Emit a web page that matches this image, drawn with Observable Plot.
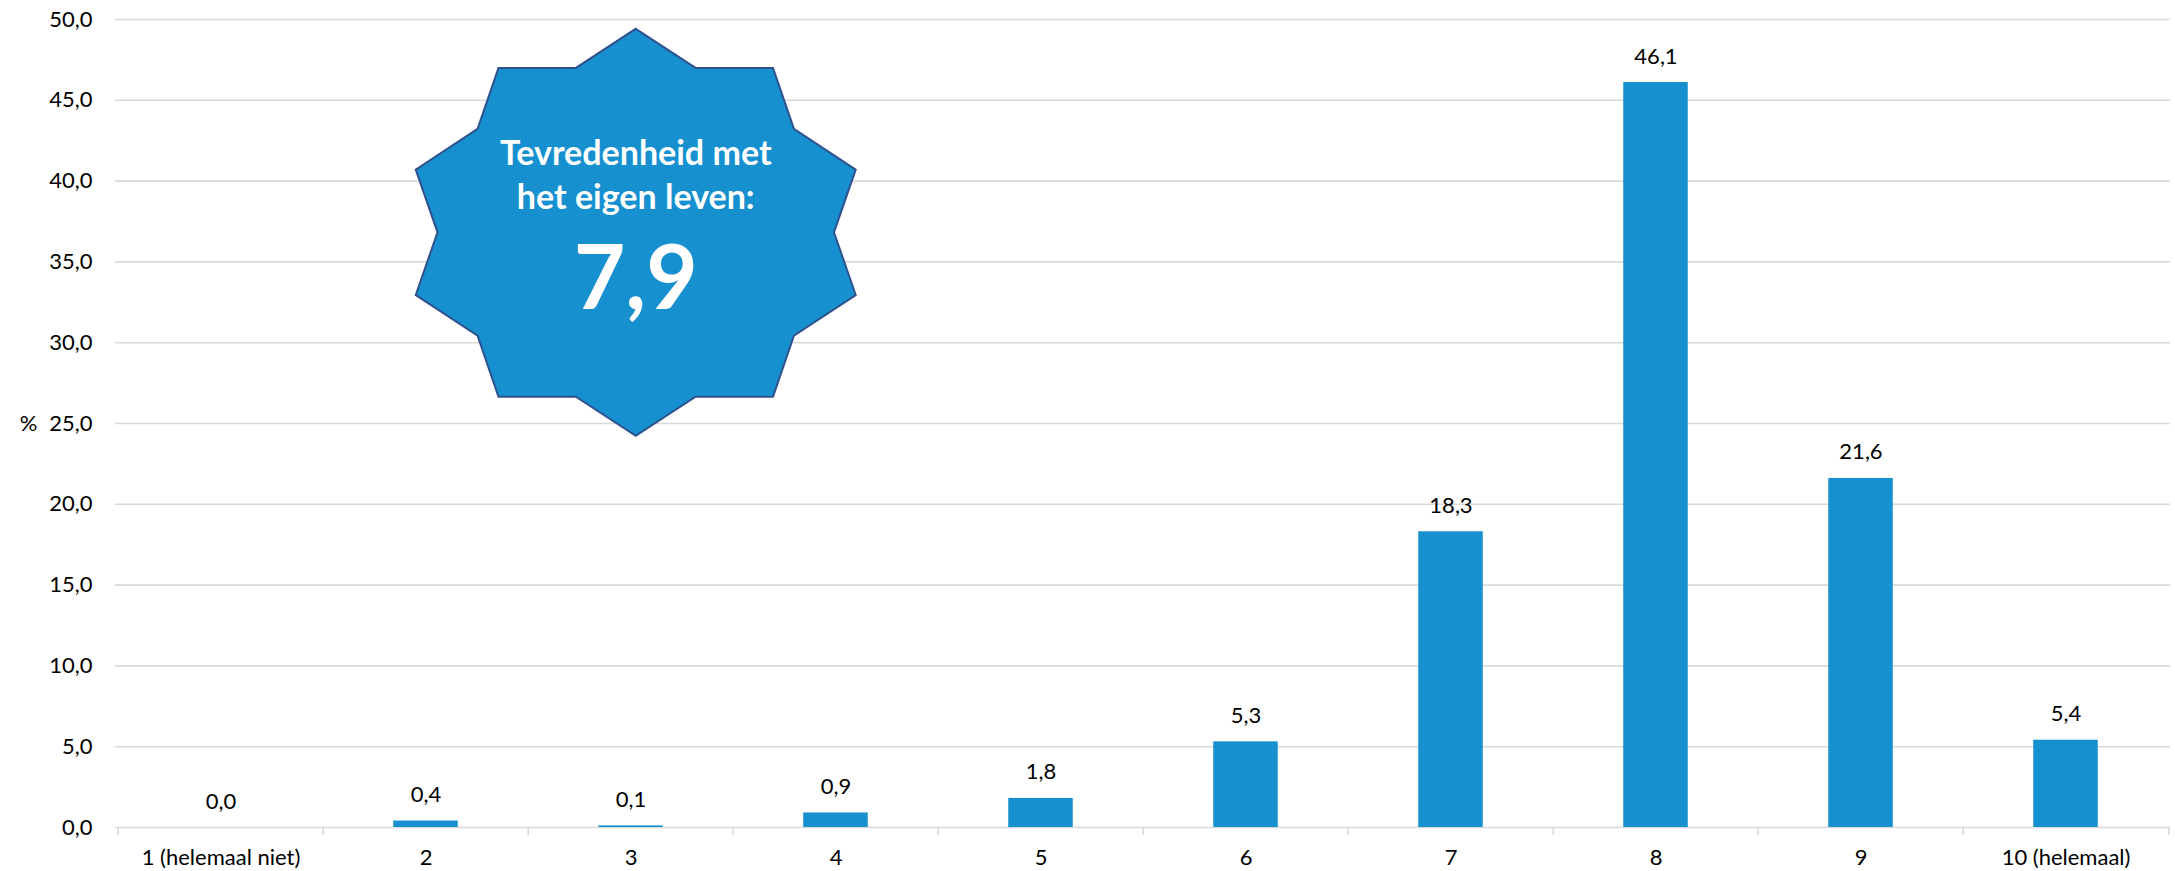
<!DOCTYPE html>
<html>
<head>
<meta charset="utf-8">
<script src="https://cdn.jsdelivr.net/npm/d3@7"></script>
<script src="https://cdn.jsdelivr.net/npm/@observablehq/plot@0.6"></script>
<style>
  html, body { margin: 0; padding: 0; background: #fff; }
  #chart svg { display: block; }
</style>
</head>
<body>
<div id="chart"></div>
<script>
const categories = ["1 (helemaal niet)", "2", "3", "4", "5", "6", "7", "8", "9", "10 (helemaal)"];
const values = [0.0, 0.4, 0.1, 0.9, 1.8, 5.3, 18.3, 46.1, 21.6, 5.4];
const yTicks = [0, 5, 10, 15, 20, 25, 30, 35, 40, 45, 50];
const badgeLines = ["Tevredenheid met", "het eigen leven:"];
const badgeValue = "7,9";

const data = categories.map((c, i) => ({cat: c, val: values[i]}));
const fmt = v => d3.format(".1f")(v).replace(".", ",");

const W = 2175, H = 871;
const mL = 115, mR = 5, mT = 19, mB = 44;
const bw = (W - mL - mR) / categories.length;
const barColor = "#1690cf";
const gridColor = "#d9d9d9";
const font = "Lato, 'Open Sans', sans-serif";
const fs = 22;

// Badge (10-point star) outline, normalized offsets from its centre
const starOuter = [[0,-1],[0.624,-0.808],[1,-0.308],[1,0.308],[0.624,0.808],[0,1],[-0.624,0.808],[-1,0.308],[-1,-0.308],[-0.624,-0.808]];
const starInner = [[0.272,-0.808],[0.719,-0.508],[0.901,0],[0.719,0.508],[0.272,0.808],[-0.272,0.808],[-0.719,0.508],[-0.901,0],[-0.719,-0.508],[-0.272,-0.808]];

function badge(index, scales, values, dimensions) {
  const x0 = scales.x("3");
  const cx = x0 + bw / 2 + 5;
  const cy = scales.y(36.8);
  const rx = 220, ry = 203.5;
  const pts = [];
  for (let i = 0; i < 10; i++) {
    pts.push([cx + starOuter[i][0] * rx, cy + starOuter[i][1] * ry]);
    pts.push([cx + starInner[i][0] * rx, cy + starInner[i][1] * ry]);
  }
  const g = d3.create("svg:g");
  g.append("polygon")
    .attr("points", pts.map(p => p.join(",")).join(" "))
    .attr("fill", barColor)
    .attr("stroke", "#2f528f")
    .attr("stroke-width", 2);
  const t = g.append("g").attr("fill", "#fff").attr("font-family", font).attr("font-weight", "bold").attr("text-anchor", "middle");
  t.append("text").attr("x", cx).attr("y", cy - 67.7).attr("font-size", 34).text(badgeLines[0]);
  t.append("text").attr("x", cx).attr("y", cy - 23.7).attr("font-size", 34).text(badgeLines[1]);
  t.append("text").attr("x", cx).attr("y", cy + 76.3).attr("font-size", 89).text(badgeValue);
  return g.node();
}

const chart = Plot.plot({
  width: W,
  height: H,
  marginLeft: mL,
  marginRight: mR,
  marginTop: mT,
  marginBottom: mB,
  style: {fontFamily: font, fontSize: fs + "px", color: "#000", background: "#fff"},
  x: {domain: categories, padding: 0, label: null},
  y: {domain: [0, 50], label: null},
  marks: [
    Plot.ruleY(yTicks, {stroke: gridColor, strokeWidth: 1.6}),
    Plot.ruleX(categories, {x: d => d, dx: -bw / 2, stroke: gridColor, strokeWidth: 1.6, insetTop: H - mT - mB, insetBottom: -8}),
    Plot.ruleX(categories.slice(-1), {x: d => d, dx: bw / 2, stroke: gridColor, strokeWidth: 1.6, insetTop: H - mT - mB, insetBottom: -8}),
    Plot.barY(data, {x: "cat", y: "val", fill: barColor, insetLeft: (bw - 65) / 2, insetRight: (bw - 65) / 2}),
    Plot.text(data, {x: "cat", y: "val", text: d => fmt(d.val), dy: -26, fontSize: fs, fill: "#000"}),
    Plot.axisY({ticks: yTicks, tickSize: 0, tickPadding: 23, tickFormat: fmt, fontSize: fs, label: null}),
    Plot.axisX({tickSize: 0, tickPadding: 22, fontSize: fs, label: null}),
    Plot.text(["%"], {text: d => d, frameAnchor: "left", dx: -87, textAnchor: "middle", fontSize: fs, fill: "#000"}),
    badge
  ]
});
document.getElementById("chart").appendChild(chart);
</script>
</body>
</html>
